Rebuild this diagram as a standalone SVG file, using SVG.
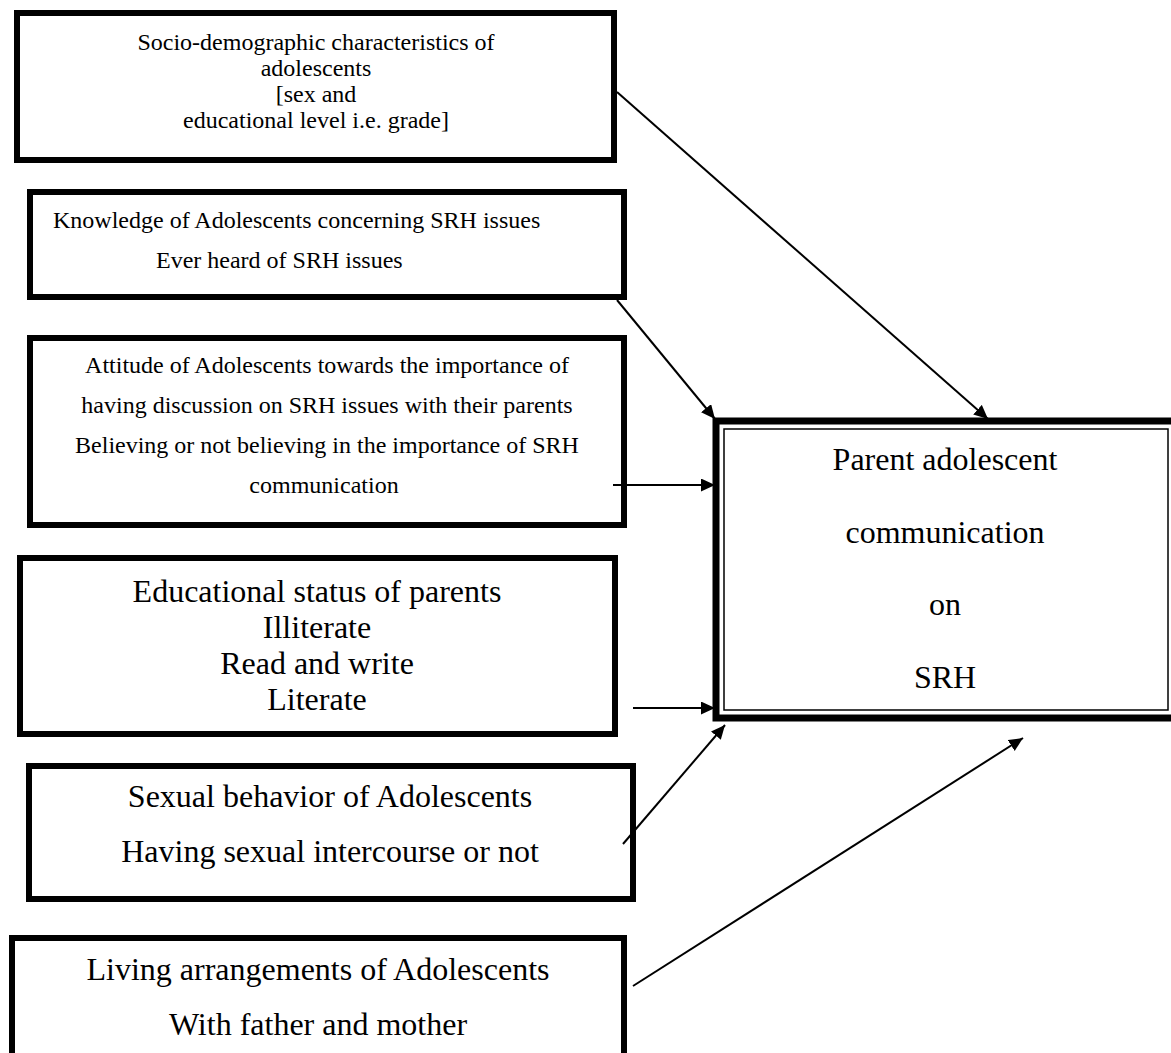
<svg xmlns="http://www.w3.org/2000/svg" width="1171" height="1053" viewBox="0 0 1171 1053">
<style>
.box{fill:#fff;stroke:#000;stroke-width:6}
.t{font-family:"Liberation Serif","Times New Roman",serif;fill:#000}
.s24{font-size:24px}
.s32{font-size:32px}
.c{text-anchor:middle}
.conn{stroke:#000;stroke-width:2;fill:none;marker-end:url(#ah)}
</style>
<defs>
<marker id="ah" markerUnits="userSpaceOnUse" markerWidth="16" markerHeight="14" refX="14" refY="6.5" orient="auto">
<path d="M0,0 L14,6.5 L0,13 z" fill="#000"/>
</marker>
</defs>
<rect width="1171" height="1053" fill="#fff"/>
<g id="socio">
<rect class="box" x="17" y="13" width="597" height="147"/>
<text class="t s24 c" x="316" y="50">Socio-demographic characteristics of</text>
<text class="t s24 c" x="316" y="76">adolescents</text>
<text class="t s24 c" x="316" y="102">[sex and</text>
<text class="t s24 c" x="316" y="128">educational level i.e. grade]</text>
</g>
<g id="knowledge">
<rect class="box" x="30" y="192" width="594" height="105"/>
<text class="t s24" x="53" y="228">Knowledge of Adolescents concerning SRH issues</text>
<text class="t s24" x="156" y="268">Ever heard of SRH issues</text>
</g>
<g id="attitude">
<rect class="box" x="30" y="338" width="594" height="187"/>
<text class="t s24 c" x="327" y="373">Attitude of Adolescents towards the importance of</text>
<text class="t s24 c" x="327" y="413">having discussion on SRH issues with their parents</text>
<text class="t s24 c" x="327" y="453">Believing or not believing in the importance of SRH</text>
<text class="t s24 c" x="324" y="493">communication</text>
</g>
<g id="education">
<rect class="box" x="20" y="558" width="595" height="176"/>
<text class="t s32 c" x="317" y="602">Educational status of parents</text>
<text class="t s32 c" x="317" y="638">Illiterate</text>
<text class="t s32 c" x="317" y="674">Read and write</text>
<text class="t s32 c" x="317" y="710">Literate</text>
</g>
<g id="sexual">
<rect class="box" x="29" y="766" width="604" height="133"/>
<text class="t s32 c" x="330" y="807">Sexual behavior of Adolescents</text>
<text class="t s32 c" x="330" y="862">Having sexual intercourse or not</text>
</g>
<g id="living">
<rect class="box" x="12" y="938" width="612" height="200"/>
<text class="t s32 c" x="318" y="980">Living arrangements of Adolescents</text>
<text class="t s32 c" x="318" y="1035">With father and mother</text>
</g>
<g id="outcome">
<rect x="716" y="421" width="520" height="297" fill="#fff" stroke="#000" stroke-width="7"/>
<rect x="724" y="429" width="444" height="281" fill="none" stroke="#000" stroke-width="1.5"/>
<text class="t s32 c" x="945" y="470">Parent adolescent</text>
<text class="t s32 c" x="945" y="543">communication</text>
<text class="t s32 c" x="945" y="615">on</text>
<text class="t s32 c" x="945" y="688">SRH</text>
</g>
<g id="connectors">
<line class="conn" x1="617" y1="92" x2="988" y2="419"/>
<line class="conn" x1="617" y1="300" x2="715" y2="419"/>
<line class="conn" x1="613" y1="485" x2="715" y2="485"/>
<line class="conn" x1="633" y1="708" x2="715" y2="708"/>
<line class="conn" x1="623" y1="844" x2="725" y2="725"/>
<line class="conn" x1="633" y1="986" x2="1023" y2="738"/>
</g>
</svg>
